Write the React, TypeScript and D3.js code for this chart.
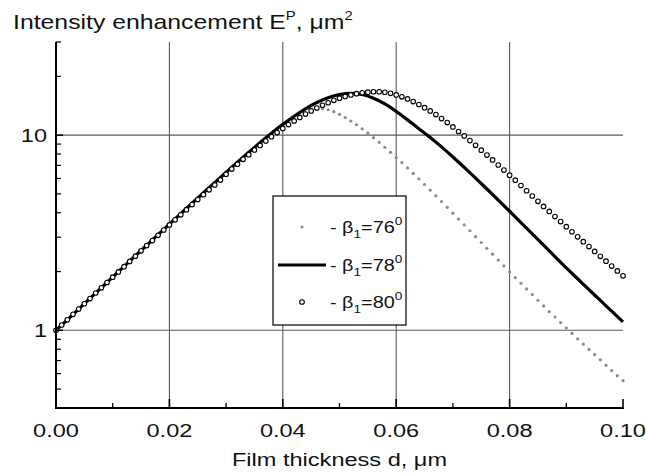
import * as d3 from "d3";

const width = 646;
const height = 474;
const margin = { top: 42, right: 23, bottom: 66, left: 56 };
const font = "'Liberation Sans', Arial, sans-serif";
const stretch = 1.24; // the source figure's lettering is wider than plain Arial

// film thickness d (µm), sampled every 0.001 for the markers, 0.002 for the line
const markerStep = 0.001;
const lineStep = 0.002;

const xMajorTicks = [0, 0.02, 0.04, 0.06, 0.08, 0.1];
const xMinorTicks = [0.01, 0.03, 0.05, 0.07, 0.09];
const yMajorTicks = [1, 10];
const yMinorTicks = [0.4, 0.5, 0.6, 0.7, 0.8, 0.9, 2, 3, 4, 5, 6, 7, 8, 9, 20, 30];

const legendAngles = ["76", "78", "80"];

// beta1 = 76 deg (grey dots)
const e76 = [
  1.0, 1.065, 1.132, 1.205, 1.285, 1.368, 1.455, 1.553, 1.652, 1.762,
  1.875, 1.995, 2.128, 2.265, 2.41, 2.564, 2.729, 2.904, 3.09, 3.289,
  3.508, 3.732, 3.963, 4.218, 4.488, 4.775, 5.071, 5.383, 5.715, 6.068,
  6.442, 6.824, 7.228, 7.656, 8.091, 8.551, 9.017, 9.507, 10.0, 10.5,
  10.99, 11.48, 11.97, 12.42, 12.82, 13.18, 13.55, 13.64, 13.49, 13.18,
  12.76, 12.3, 11.8, 11.3, 10.77, 10.23, 9.705, 9.184, 8.67, 8.166,
  7.692, 7.228, 6.792, 6.369, 5.971, 5.585, 5.224, 4.887, 4.571, 4.266,
  3.981, 3.715, 3.467, 3.236, 3.02, 2.818, 2.63, 2.455, 2.291, 2.138,
  1.995, 1.862, 1.742, 1.63, 1.524, 1.426, 1.334, 1.247, 1.17, 1.096,
  1.028, 0.964, 0.904, 0.849, 0.798, 0.75, 0.705, 0.662, 0.622, 0.586,
  0.552,
];

// beta1 = 78 deg (solid line)
const e78 = [
  1.0, 1.132, 1.285, 1.459, 1.652, 1.875, 2.128, 2.41, 2.729, 3.09,
  3.499, 3.954, 4.477, 5.059, 5.715, 6.442, 7.261, 8.166, 9.163, 10.23,
  11.35, 12.5, 13.64, 14.69, 15.56, 16.15, 16.37, 16.15, 15.46, 14.45,
  13.24, 11.97, 10.79, 9.728, 8.71, 7.727, 6.84, 6.026, 5.297, 4.645,
  4.074, 3.565, 3.119, 2.729, 2.388, 2.089, 1.837, 1.615, 1.423, 1.253,
  1.104,
];

// beta1 = 80 deg (open circles)
const e80 = [
  1.0, 1.065, 1.132, 1.208, 1.285, 1.368, 1.455, 1.553, 1.652, 1.758,
  1.871, 1.991, 2.118, 2.255, 2.399, 2.553, 2.717, 2.884, 3.069, 3.266,
  3.467, 3.681, 3.908, 4.15, 4.406, 4.677, 4.955, 5.248, 5.559, 5.888,
  6.31, 6.699, 7.096, 7.517, 7.943, 8.395, 8.852, 9.333, 9.817, 10.31,
  10.82, 11.32, 11.83, 12.33, 12.82, 13.3, 13.77, 14.23, 14.65, 15.07,
  15.46, 15.78, 16.07, 16.3, 16.49, 16.6, 16.68, 16.68, 16.56, 16.37,
  16.07, 15.71, 15.32, 14.86, 14.35, 13.83, 13.3, 12.74, 12.16, 11.59,
  11.01, 10.44, 9.91, 9.376, 8.872, 8.376, 7.907, 7.464, 7.031, 6.622,
  6.238, 5.875, 5.521, 5.189, 4.876, 4.582, 4.315, 4.065, 3.828, 3.606,
  3.396, 3.199, 3.013, 2.844, 2.686, 2.535, 2.394, 2.26, 2.133, 2.014,
  1.901,
];

const at = (px: number, py: number) => `translate(${px},${py}) scale(${stretch},1)`;

export default function App() {
  const x = d3
    .scaleLinear()
    .domain([0, 0.1])
    .range([margin.left, width - margin.right]);
  const y = d3
    .scaleLog()
    .domain([0.4, 30])
    .range([height - margin.bottom, margin.top]);

  const [x0, x1] = x.range();
  const [yBottom, yTop] = y.range();

  const line = d3
    .line<number>()
    .x((_, i) => x(i * lineStep))
    .y((v) => y(v))
    .curve(d3.curveMonotoneX);

  const legendBox = { x: 273, y: 196, w: 133, h: 129 };
  const rowY = [227, 265, 302];

  return (
    <svg
      width={width}
      height={height}
      style={{ position: "absolute", left: 0, top: 0, background: "#fff" }}
      fontFamily={font}
    >
      {/* grid */}
      {xMajorTicks.slice(1, -1).map((t) => (
        <line key={"gx" + t} x1={x(t)} x2={x(t)} y1={yTop} y2={yBottom} stroke="#5a5a5a" strokeWidth={1.1} />
      ))}
      {yMajorTicks.map((t) => (
        <line key={"gy" + t} x1={x0} x2={x1} y1={y(t)} y2={y(t)} stroke="#5a5a5a" strokeWidth={1.1} />
      ))}

      {/* data */}
      {e76.map((v, i) => (
        <circle key={"d" + i} cx={x(i * markerStep)} cy={y(v)} r={1.6} fill="#8c8c8c" />
      ))}
      <path d={line(e78) ?? ""} fill="none" stroke="#000" strokeWidth={3.2} />
      {e80.map((v, i) => (
        <circle key={"c" + i} cx={x(i * markerStep)} cy={y(v)} r={2.3} fill="#fff" stroke="#000" strokeWidth={1.1} />
      ))}

      {/* axes */}
      <line x1={x0} x2={x0} y1={yTop} y2={yBottom + 1} stroke="#000" strokeWidth={2} />
      <line x1={x0} x2={x1 + 1} y1={yBottom} y2={yBottom} stroke="#000" strokeWidth={2} />
      {yMajorTicks.map((t) => (
        <line key={"ymt" + t} x1={x0} x2={x0 + 7} y1={y(t)} y2={y(t)} stroke="#000" strokeWidth={1.5} />
      ))}
      {yMinorTicks.map((t) => (
        <line key={"ynt" + t} x1={x0} x2={x0 + 5} y1={y(t)} y2={y(t)} stroke="#000" strokeWidth={1.2} />
      ))}
      {xMajorTicks.map((t) => (
        <line key={"xmt" + t} x1={x(t)} x2={x(t)} y1={yBottom} y2={yBottom - 9} stroke="#000" strokeWidth={1.6} />
      ))}
      {xMinorTicks.map((t) => (
        <line key={"xnt" + t} x1={x(t)} x2={x(t)} y1={yBottom} y2={yBottom - 5} stroke="#000" strokeWidth={1.3} />
      ))}

      {/* tick labels */}
      {yMajorTicks.map((t) => (
        <text key={"yl" + t} transform={at(x0 - 9, y(t))} dy="0.36em" textAnchor="end" fontSize={19} fill="#111">
          {t}
        </text>
      ))}
      {xMajorTicks.map((t) => (
        <text key={"xl" + t} transform={at(x(t), yBottom + 29)} textAnchor="middle" fontSize={19} fill="#111">
          {t.toFixed(2)}
        </text>
      ))}

      {/* axis titles */}
      <text transform={at((x0 + x1) / 2, height - 8)} textAnchor="middle" fontSize={19} fill="#111">
        Film thickness d, μm
      </text>
      <text transform={at(13, 29)} fontSize={20} fill="#111">
        Intensity enhancement E
        <tspan fontSize={12} dy={-9}>P</tspan>
        <tspan dy={9}>, μm</tspan>
        <tspan fontSize={12} dy={-9}>2</tspan>
      </text>

      {/* legend */}
      <rect x={legendBox.x} y={legendBox.y} width={legendBox.w} height={legendBox.h} fill="#fff" stroke="#000" strokeWidth={1.2} />
      <circle cx={302} cy={rowY[0]} r={1.6} fill="#8c8c8c" />
      <line x1={278} x2={326} y1={rowY[1]} y2={rowY[1]} stroke="#000" strokeWidth={3.2} />
      <circle cx={302} cy={rowY[2]} r={2.3} fill="#fff" stroke="#000" strokeWidth={1.1} />
      {legendAngles.map((a, i) => (
        <text key={"lg" + a} transform={at(330, rowY[i])} dy="0.36em" fontSize={16} fill="#111">
          - β
          <tspan fontSize={11} dy={5}>1</tspan>
          <tspan dy={-5}>={a}</tspan>
          <tspan fontSize={11} dy={-8}>0</tspan>
        </text>
      ))}
    </svg>
  );
}
